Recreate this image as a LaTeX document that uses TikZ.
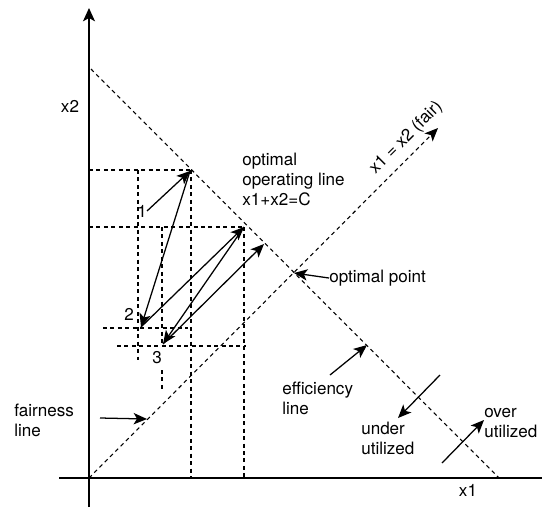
\documentclass[tikz,border=0pt]{standalone}
\usepackage{fontspec}
\setmainfont{TeX Gyre Heros}
\usetikzlibrary{arrows.meta}
\tikzset{
  dsh/.style={line width=0.8pt, dash pattern=on 3pt off 2.6pt},
  axis/.style={line width=1pt},
  tip/.style={-{Stealth[length=10pt,width=8.5pt,inset=2.5pt]}},
  arr/.style={line width=0.95pt, tip},
  lbl/.style={font=\fontsize{12.8}{15}\selectfont, inner sep=0pt, align=left},
}
\begin{document}
\begin{tikzpicture}[x=0.75pt,y=-0.75pt]
\useasboundingbox (0,0) rectangle (542,507);
% key points
\coordinate (O) at (89,478);
\coordinate (ytop) at (89,8);
\coordinate (ybot) at (89,507);
\coordinate (xl) at (59,478);
\coordinate (xr) at (542,478);
\coordinate (eA) at (91,69);
\coordinate (eB) at (499,478);
\coordinate (fB) at (438,128);
\coordinate (OP) at (294,273);
\coordinate (P1) at (190,171);
\coordinate (P2) at (141,327);
\coordinate (T2) at (244,227);
\coordinate (P3) at (163,344);
\coordinate (E) at (264,244);
% axes
\draw[axis, -{Stealth[length=10pt,width=9pt,inset=2.5pt]}] (ybot) -- (ytop);
\draw[axis] (xl) -- (xr);
% efficiency and fairness lines
\draw[dsh] (eA) -- (eB);
\draw[dsh, tip] (O) -- (fB);
% dashed helper lines
\coordinate (h1a) at (89,170); \coordinate (h1b) at (190,170);
\coordinate (h2a) at (89,227); \coordinate (h2b) at (244,227);
\coordinate (h3a) at (103,328); \coordinate (h3b) at (188,328);
\coordinate (h4a) at (117,346); \coordinate (h4b) at (246,346);
\coordinate (v1a) at (138,170); \coordinate (v1b) at (138,360);
\coordinate (v2a) at (191,170); \coordinate (v2b) at (191,478);
\coordinate (v3a) at (162,227); \coordinate (v3b) at (162,346);
\coordinate (v3c) at (162,370); \coordinate (v3d) at (162,389);
\coordinate (v4a) at (244,227); \coordinate (v4b) at (244,478);
\draw[dsh] (h1a) -- (h1b);
\draw[dsh] (h2a) -- (h2b);
\draw[dsh] (h3a) -- (h3b);
\draw[dsh] (h4a) -- (h4b);
\draw[dsh] (v1a) -- (v1b);
\draw[dsh] (v2a) -- (v2b);
\draw[dsh] (v3a) -- (v3b);
\draw[dsh] (v3c) -- (v3d);
\draw[dsh] (v4a) -- (v4b);
% trajectory
\node[lbl] (n1) at (142,211) {1};
\node[lbl] (n2) at (129,314) {2};
\node[lbl] (n3) at (157,358) {3};
\draw[arr] (n1.east) -- (P1);
\draw[arr] (P1) -- (P2);
\draw[arr] (P2) -- (T2);
\draw[arr] (T2) -- (P3);
\draw[arr] (P3) -- (E);
% labels
\node[lbl] (x2) at (70,106) {x2};
\node[lbl] (x1) at (468,490) {x1};
\node[lbl, anchor=west] (opt) at (242,179) {optimal\\operating line\\x1+x2=C};
\node[lbl, rotate=45] (fair) at (406,138) {x1 = x2 (fair)};
\node[lbl, anchor=west] (optp) at (329,278) {optimal point};
\draw[arr] (optp.west) -- (OP);
\node[lbl, anchor=west] (fl) at (14,420) {fairness\\line};
\coordinate (flA) at (100,418); \coordinate (flB) at (147,419);
\draw[arr] (flA) -- (flB);
\node[lbl, anchor=west] (el) at (282,398) {efficiency\\line};
\coordinate (elA) at (330,375); \coordinate (elB) at (367,345);
\draw[arr] (elA) -- (elB);
\node[lbl, anchor=west] (ul) at (361,438) {under\\utilized};
\coordinate (ulA) at (440,375); \coordinate (ulB) at (398,418);
\draw[arr] (ulA) -- (ulB);
\node[lbl, anchor=west] (ol) at (484,423) {over\\utilized};
\coordinate (olA) at (442,463); \coordinate (olB) at (484,420);
\draw[arr] (olA) -- (olB);
\end{tikzpicture}
\end{document}
